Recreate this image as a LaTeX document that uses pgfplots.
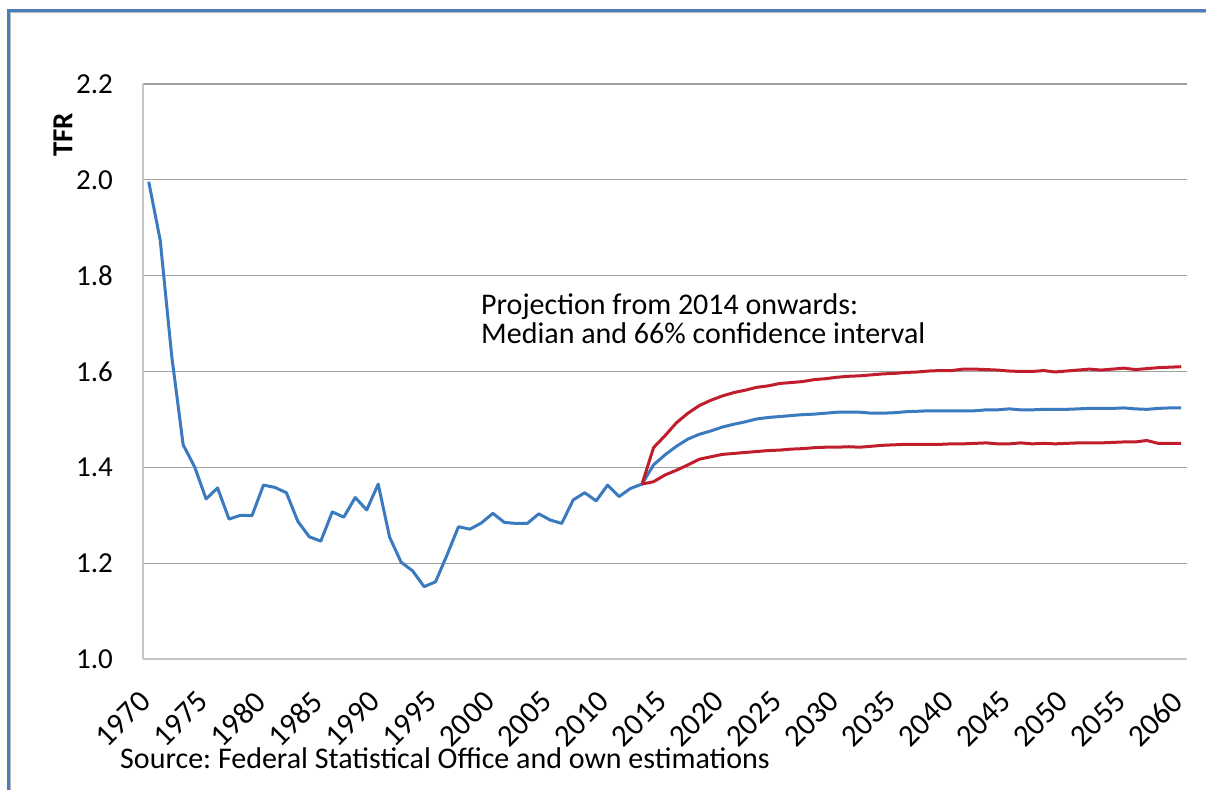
\documentclass[border=0pt]{standalone}
\usepackage{fontspec}
\setmainfont{Carlito}
\usepackage{pgfplots}
\pgfplotsset{compat=1.18}
\usepackage{pgfplotstable}
\definecolor{tfrblue}{RGB}{60,122,192}
\definecolor{tfrred}{RGB}{192,30,45}
\definecolor{gridgray}{RGB}{160,160,160}
\definecolor{axisgray}{RGB}{198,198,198}
\definecolor{framecol}{RGB}{74,126,187}
\frenchspacing

\pgfplotstableread{
year tfr
1970 1.996
1971 1.874
1972 1.633
1973 1.447
1974 1.401
1975 1.334
1976 1.357
1977 1.292
1978 1.300
1979 1.299
1980 1.363
1981 1.358
1982 1.347
1983 1.287
1984 1.255
1985 1.246
1986 1.307
1987 1.296
1988 1.337
1989 1.311
1990 1.365
1991 1.254
1992 1.202
1993 1.184
1994 1.151
1995 1.161
1996 1.217
1997 1.276
1998 1.271
1999 1.284
2000 1.304
2001 1.285
2002 1.283
2003 1.283
2004 1.303
2005 1.290
2006 1.283
2007 1.332
2008 1.347
2009 1.330
2010 1.363
2011 1.339
2012 1.356
2013 1.365
2014 1.405
2015 1.426
2016 1.444
2017 1.459
2018 1.469
2019 1.476
2020 1.484
2021 1.490
2022 1.495
2023 1.501
2024 1.504
2025 1.506
2026 1.508
2027 1.510
2028 1.511
2029 1.513
2030 1.515
2031 1.515
2032 1.515
2033 1.513
2034 1.513
2035 1.514
2036 1.516
2037 1.517
2038 1.518
2039 1.518
2040 1.518
2041 1.518
2042 1.518
2043 1.520
2044 1.520
2045 1.522
2046 1.520
2047 1.520
2048 1.521
2049 1.521
2050 1.521
2051 1.522
2052 1.523
2053 1.523
2054 1.523
2055 1.524
2056 1.522
2057 1.521
2058 1.523
2059 1.524
2060 1.524
}\medtab

\pgfplotstableread{
year tfr
2013 1.365
2014 1.441
2015 1.466
2016 1.493
2017 1.513
2018 1.529
2019 1.540
2020 1.549
2021 1.556
2022 1.561
2023 1.567
2024 1.570
2025 1.575
2026 1.577
2027 1.579
2028 1.583
2029 1.585
2030 1.588
2031 1.590
2032 1.591
2033 1.593
2034 1.595
2035 1.596
2036 1.598
2037 1.599
2038 1.601
2039 1.602
2040 1.602
2041 1.605
2042 1.605
2043 1.604
2044 1.603
2045 1.601
2046 1.600
2047 1.600
2048 1.602
2049 1.599
2050 1.601
2051 1.603
2052 1.605
2053 1.603
2054 1.605
2055 1.607
2056 1.604
2057 1.606
2058 1.608
2059 1.609
2060 1.610
}\uptab

\pgfplotstableread{
year tfr
2013 1.365
2014 1.370
2015 1.384
2016 1.394
2017 1.405
2018 1.417
2019 1.422
2020 1.427
2021 1.429
2022 1.431
2023 1.433
2024 1.435
2025 1.436
2026 1.438
2027 1.439
2028 1.441
2029 1.442
2030 1.442
2031 1.443
2032 1.442
2033 1.444
2034 1.446
2035 1.447
2036 1.448
2037 1.448
2038 1.448
2039 1.448
2040 1.449
2041 1.449
2042 1.450
2043 1.451
2044 1.449
2045 1.449
2046 1.451
2047 1.449
2048 1.450
2049 1.449
2050 1.450
2051 1.451
2052 1.451
2053 1.451
2054 1.452
2055 1.453
2056 1.453
2057 1.456
2058 1.450
2059 1.450
2060 1.450
}\lowtab

\begin{document}
\begin{tikzpicture}[x=1pt,y=1pt]
\useasboundingbox (0,0) rectangle (1206,790);
\fill[white] (0,0) rectangle (1206,790);
\draw[gray!55, line width=0.8pt] (10.8,0) -- (10.8,777.4) -- (1206,777.4);
\draw[framecol, line width=2.7pt] (8.7,0) -- (8.7,779.5) -- (1206,779.5);
\begin{axis}[
  at={(143pt,131pt)}, anchor=south west,
  scale only axis, width=1044pt, height=575pt,
  xmin=1969.5, xmax=2060.5, ymin=1, ymax=2.2,
  xtick={1970,1975,...,2060},
  ytick={1,1.2,1.4,1.6,1.8,2,2.2},
  axis lines=left,
  axis line style={-, axisgray, line width=2pt},
  ymajorgrids,
  grid style={gridgray, line width=1.2pt},
  major tick length=0pt,
  /pgf/number format/assume math mode=true,
  /pgf/number format/1000 sep={},
  yticklabel style={font=\fontsize{29}{34}\selectfont, anchor=east, inner sep=0pt, xshift=-30pt, /pgf/number format/fixed, /pgf/number format/fixed zerofill, /pgf/number format/precision=1},
  xticklabel style={font=\fontsize{31}{36}\selectfont, xshift=-3.5pt, yshift=-37.5pt, rotate=45, anchor=east, inner sep=0pt},
  every axis plot/.append style={line width=3pt, line join=round, no markers},
]
\addplot[tfrblue] table[x=year, y=tfr] {\medtab};
\addplot[tfrred] table[x=year, y=tfr] {\uptab};
\addplot[tfrred] table[x=year, y=tfr] {\lowtab};
\end{axis}
\node[rotate=90, inner sep=0pt, font=\fontsize{29}{34}\selectfont\bfseries] at (63,655) {TFR};
\node[anchor=base west, inner sep=0pt, font=\fontsize{30}{36}\selectfont] at (481,475) {Projection from 2014 onwards:};
\node[anchor=base west, inner sep=0pt, font=\fontsize{30}{36}\selectfont] at (481,446) {Median and 66\% confidence interval};
\node[anchor=base west, inner sep=0pt, font=\fontsize{30}{36}\selectfont] at (120,22) {Source: Federal Statistical Office and own estimations};
\end{tikzpicture}
\end{document}
